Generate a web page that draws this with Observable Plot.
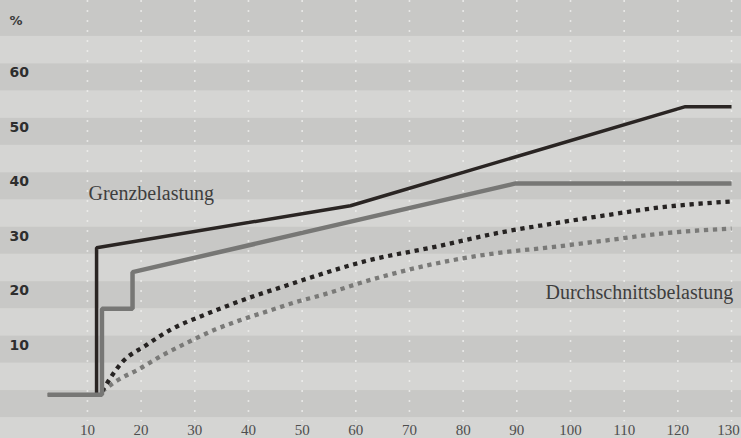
<!DOCTYPE html>
<html>
<head>
<meta charset="utf-8">
<script src="https://cdn.jsdelivr.net/npm/d3@7"></script>
<script src="https://cdn.jsdelivr.net/npm/@observablehq/plot@0.6"></script>
<style>
  html, body { margin: 0; padding: 0; background: #d5d5d3; }
  #chart svg { display: block; }
</style>
</head>
<body>
<div id="chart"></div>
<script>
// Tick labels
const xTicks = [10, 20, 30, 40, 50, 60, 70, 80, 90, 100, 110, 120, 130];
const yTicks = [10, 20, 30, 40, 50, 60];
const bandValues = [0, 10, 20, 30, 40, 50, 60, 70];

// Grenzbelastung (marginal rate), black solid
const grenzAX = [2.6, 11.7, 11.7, 59.0, 121.4, 130];
const grenzAY = [0, 0, 27.0, 34.7, 52.9, 52.9];
// Grenzbelastung (marginal rate), grey solid
const grenzBX = [2.6, 12.7, 12.7, 18.4, 18.4, 89.8, 130];
const grenzBY = [0, 0, 15.8, 15.8, 22.5, 38.8, 38.8];

// Durchschnittsbelastung (average rate), black dotted
const durchAX = [12.7, 16.5, 20.8, 25.8, 31.4, 36.3, 41.3, 46.3, 51.2, 62.1, 74.5, 87.0, 95.3, 105.6, 116.8, 130];
const durchAY = [0.6, 6.0, 9.0, 12.1, 14.5, 16.4, 18.2, 19.8, 21.4, 24.6, 27.1, 29.8, 31.2, 32.8, 34.4, 35.5];
// Durchschnittsbelastung (average rate), grey dotted
const durchBX = [12.7, 15.2, 19.6, 23.9, 28.9, 33.9, 38.8, 43.8, 48.8, 53.7, 62.1, 74.5, 87.0, 95.7, 105.6, 118.0, 130];
const durchBY = [0.6, 2.4, 4.7, 7.2, 9.7, 12.0, 13.8, 15.4, 17.0, 18.3, 20.9, 24.0, 26.1, 27.0, 28.2, 29.7, 30.5];

const zip = (xs, ys) => xs.map((x, i) => ({x, y: ys[i]}));

const chart = Plot.plot({
  width: 741,
  height: 438,
  margin: 0,
  style: {background: "#d5d5d3", overflow: "visible"},
  x: {domain: [-6.2, 131.86], axis: null},
  y: {domain: [-8.05, 72.4], axis: null},
  marks: [
    // horizontal stripes
    Plot.rect(bandValues, {y1: d => d - 4.2, y2: d => d === 70 ? 74 : d + 0.75, fill: "#c8c8c6"}),
    // white dotted vertical gridlines
    Plot.ruleX(xTicks, {x: d => d, stroke: "#f2f2f0", strokeWidth: 1.6, strokeDasharray: "2,8", strokeOpacity: 0.75, insetBottom: 17}),
    // average rate dotted curves
    Plot.line(zip(durchBX, durchBY), {x: "x", y: "y", curve: "monotone-x", stroke: "#7a7a78", strokeWidth: 4.3,
      strokeDasharray: "4.3,4.7", strokeLinecap: "butt"}),
    Plot.line(zip(durchAX, durchAY), {x: "x", y: "y", curve: "monotone-x", stroke: "#262322", strokeWidth: 4.3,
      strokeDasharray: "4.3,4.7", strokeLinecap: "butt"}),
    // marginal rate solid lines
    Plot.line(zip(grenzAX, grenzAY), {x: "x", y: "y", stroke: "#2a2523", strokeWidth: 3.5,
      strokeLinejoin: "miter", strokeLinecap: "butt"}),
    Plot.line(zip(grenzBX, grenzBY), {x: "x", y: "y", stroke: "#777775", strokeWidth: 4.5,
      strokeLinejoin: "miter", strokeLinecap: "butt"}),
    // y tick labels
    Plot.text(yTicks, {y: d => d, text: d => String(d), frameAnchor: "left", dx: 9, dy: 5, textAnchor: "start",
      fontFamily: "DejaVu Sans", fontWeight: "bold", fontSize: 14, fill: "#2e2e2e"}),
    Plot.text(["%"], {frameAnchor: "top-left", dx: 9, dy: 20, textAnchor: "start", lineAnchor: "middle",
      fontFamily: "DejaVu Sans", fontWeight: "bold", fontSize: 13, fill: "#3a3a3a"}),
    // x tick labels
    Plot.text(xTicks.slice(0, -1), {x: d => d, text: d => String(d), frameAnchor: "bottom", dy: -8, lineAnchor: "middle",
      fontFamily: "Liberation Serif", fontSize: 15, fill: "#4e4e4e"}),
    Plot.text(xTicks.slice(-1), {x: d => d, text: d => String(d), frameAnchor: "bottom", dx: -3, dy: -8, lineAnchor: "middle",
      fontFamily: "Liberation Serif", fontSize: 15, fill: "#4e4e4e"}),
    // series labels
    Plot.text(["Grenzbelastung"], {frameAnchor: "top-left", dx: 88, dy: 199, textAnchor: "start", lineAnchor: "bottom",
      fontFamily: "Liberation Serif", fontSize: 20, fill: "#3e3e3e"}),
    Plot.text(["Durchschnittsbelastung"], {frameAnchor: "top-left", dx: 545, dy: 298, textAnchor: "start", lineAnchor: "bottom",
      fontFamily: "Liberation Serif", fontSize: 20, fill: "#3e3e3e"})
  ]
});
document.getElementById("chart").append(chart);
</script>
</body>
</html>
